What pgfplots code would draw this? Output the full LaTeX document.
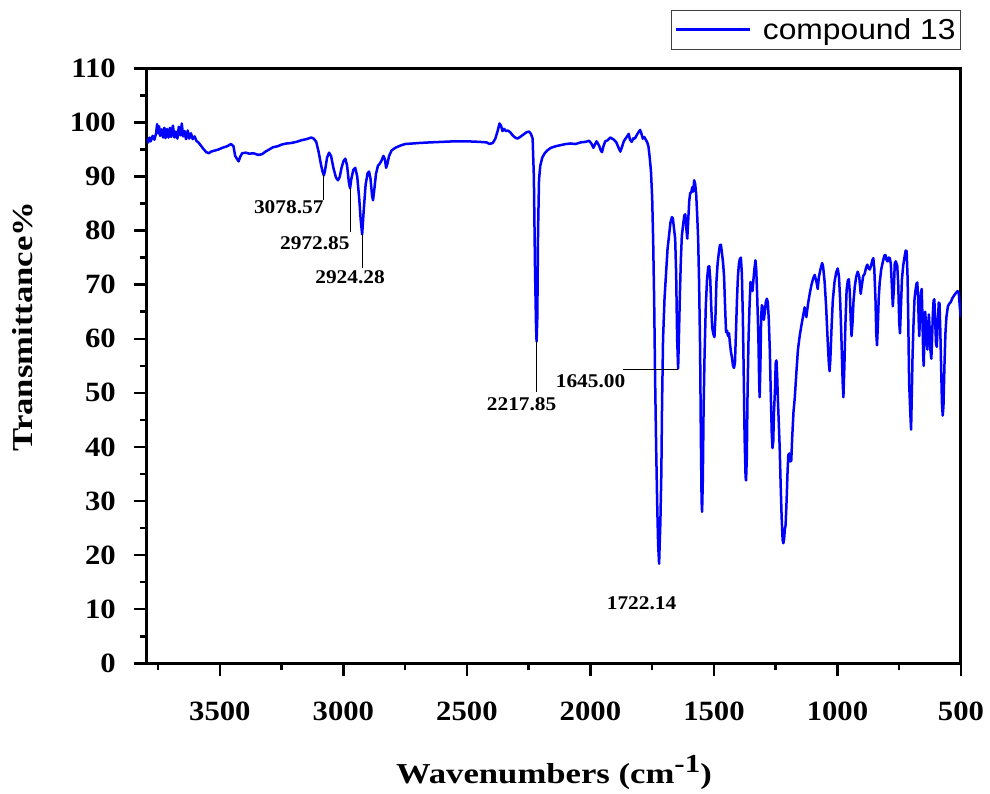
\documentclass[border=0pt]{standalone}
\usepackage{pgfplots}
\pgfplotsset{compat=1.18}
\usepackage{fontspec}
\setmainfont{Liberation Serif}
\newfontfamily\tickfont{Liberation Serif}[FakeStretch=1.1]
\newfontfamily\labfont{Liberation Serif}[FakeStretch=1.2]
\newfontfamily\legfont{Liberation Sans}[FakeStretch=1.1]
\newcommand{\annfont}{\tickfont\bfseries\fontsize{19.5}{20}\selectfont}
\definecolor{specblue}{RGB}{0,0,255}
\begin{document}
\begin{tikzpicture}
\useasboundingbox (-147bp,-130.7bp) rectangle (843bp,663.3bp);
\begin{axis}[
  at={(0bp,0bp)}, anchor=south west,
  scale only axis, width=814bp, height=595bp,
  xmin=500, xmax=3795, x dir=reverse,
  ymin=0, ymax=110,
  xtick={500,1000,...,3500},
  minor xtick={750,1250,...,3750},
  ytick={0,10,...,110},
  minor ytick={5,15,...,105},
  xtick pos=bottom, ytick pos=left,
  tick align=outside,
  major tick length=13bp, minor tick length=7bp,
  every tick/.style={black, line width=2.5bp},
  axis line style={line width=3bp},
  /pgf/number format/assume math mode=true,
  /pgf/number format/set thousands separator={},
  ticklabel style={font=\tickfont\bfseries\fontsize{28}{28}\selectfont},
  xticklabel style={anchor=north, inner sep=0pt, yshift=-25bp},
  yticklabel style={anchor=east, inner sep=0pt, xshift=-18bp},
  xlabel={Wavenumbers (cm\raisebox{11bp}{\fontsize{26}{26}\selectfont -1})},
  ylabel={Transmittance\%},
  xlabel style={font=\labfont\bfseries\fontsize{29}{29}\selectfont, at={(rel axis cs:0.5,-0.2017)}, anchor=base, inner sep=0pt},
  ylabel style={font=\labfont\bfseries\fontsize{29}{29}\selectfont, at={(rel axis cs:-0.1395,0.566)}, anchor=south, inner sep=0pt},
  legend style={at={(rel axis cs:1,1.0308)}, anchor=south east, draw=black!75, line width=1bp, fill=white,
    inner xsep=3bp, inner ysep=6.5bp, nodes={inner sep=2bp}, font=\legfont\fontsize{29}{29}\selectfont},
  legend image code/.code={\draw[#1, line width=2.5bp] (0bp,0bp) -- (74bp,0bp); \path (84bp,0bp);},
]
\addplot[specblue, line width=2.5bp, line join=round] coordinates {
(3795,97.0) (3790,96.3) (3785,97.2) (3780,96.5) (3772,97.5) (3765,96.8) (3758,98.0) (3754,99.7) (3750,98.0) (3746,99.3)
(3742,97.5) (3736,98.7) (3730,97.2) (3725,99.0) (3720,97.1) (3714,98.8) (3708,97.2) (3702,99.0) (3697,97.3) (3690,99.4)
(3684,97.2) (3678,98.3) (3672,97.0) (3666,99.2) (3660,97.6) (3654,99.8) (3649,97.4) (3643,98.4) (3637,96.9) (3630,98.5)
(3624,97.0) (3617,98.0) (3610,96.9) (3602,97.4) (3595,96.6) (3585,96.2) (3575,95.6) (3565,95.0) (3555,94.5) (3545,94.3)
(3535,94.6) (3520,94.8) (3505,95.0) (3490,95.3) (3470,95.6) (3455,96.0) (3445,95.6) (3438,93.8) (3430,93.2) (3424,92.8)
(3418,93.6) (3410,94.3) (3395,94.4) (3380,94.2) (3365,94.3) (3345,94.0) (3330,94.1) (3315,94.6) (3300,95.0) (3285,95.4)
(3265,95.6) (3250,95.9) (3230,96.1) (3210,96.2) (3190,96.4) (3170,96.7) (3150,96.9) (3130,97.2) (3120,97.0) (3110,96.4)
(3100,94.5) (3092,92.5) (3085,91.0) (3079,90.2) (3074,91.2) (3066,93.5) (3058,94.4) (3050,93.8) (3040,91.5) (3030,89.8)
(3022,89.3) (3015,89.9) (3008,91.5) (3000,92.8) (2992,93.3) (2985,92.0) (2978,89.0) (2973,87.8) (2968,89.5) (2960,91.2)
(2952,91.6) (2944,90.0) (2936,86.0) (2930,82.0) (2924,79.3) (2918,83.5) (2910,88.5) (2902,90.6) (2896,90.9) (2890,89.5)
(2884,86.5) (2880,85.6) (2875,87.5) (2868,90.5) (2860,92.0) (2852,92.4) (2845,93.0) (2838,93.8) (2832,93.2) (2827,91.6)
(2822,92.3) (2815,93.8) (2805,94.8) (2790,95.3) (2770,95.7) (2750,96.0) (2720,96.1) (2690,96.2) (2650,96.3) (2600,96.4)
(2550,96.5) (2500,96.5) (2450,96.4) (2420,96.3) (2408,96.0) (2395,96.2) (2385,97.0) (2375,98.5) (2368,99.8) (2362,99.4)
(2356,98.4) (2350,98.8) (2342,98.4) (2335,98.5) (2325,98.2) (2315,97.6) (2305,97.2) (2295,97.0) (2285,97.3) (2270,97.8)
(2258,98.2) (2248,98.3) (2240,97.8) (2234,97.0) (2229,90.0) (2224,72.0) (2220,62.0) (2218,59.5) (2215,64.0) (2212,80.0)
(2208,89.5) (2203,92.0) (2195,93.5) (2185,94.3) (2175,94.8) (2160,95.3) (2140,95.6) (2120,95.8) (2100,96.0) (2080,96.1)
(2060,96.0) (2040,96.3) (2020,96.4) (2005,96.6) (1995,96.0) (1988,95.3) (1983,95.8) (1975,96.5) (1965,95.7) (1958,94.8)
(1953,94.5) (1948,95.5) (1940,96.5) (1930,96.7) (1920,97.2) (1912,97.0) (1905,96.8) (1895,96.3) (1885,95.2) (1879,94.6)
(1872,95.5) (1865,96.5) (1858,97.0) (1850,97.5) (1845,97.9) (1840,96.8) (1833,96.4) (1826,97.1) (1820,97.0) (1812,97.7)
(1805,98.2) (1799,98.6) (1794,98.0) (1788,97.0) (1782,97.3) (1776,96.8) (1770,96.3) (1765,95.5) (1760,93.5) (1755,91.0)
(1750,86.0) (1746,78.0) (1742,67.0) (1738,52.0) (1734,40.0) (1730,30.0) (1726,22.0) (1722,18.4) (1719,23.0) (1717,25.8)
(1713,35.0) (1710,48.0) (1706,60.0) (1700,67.5) (1694,72.0) (1688,76.5) (1682,79.0) (1676,81.5) (1670,82.5) (1666,82.2)
(1662,80.5) (1657,78.5) (1653,72.0) (1649,60.0) (1645,54.5) (1642,60.0) (1638,68.0) (1634,74.5) (1630,79.0) (1625,81.0)
(1620,82.8) (1616,83.0) (1612,80.5) (1608,78.5) (1604,82.0) (1600,85.5) (1596,87.0) (1592,87.0) (1588,88.0) (1584,87.2)
(1580,89.3) (1576,88.6) (1572,86.8) (1568,83.0) (1564,78.5) (1560,70.0) (1556,58.0) (1553,42.0) (1550,30.0) (1548,28.0)
(1545,34.0) (1542,47.0) (1538,57.0) (1533,66.0) (1528,71.0) (1523,73.3) (1519,73.4) (1515,71.0) (1511,66.0) (1507,62.0)
(1502,60.8) (1498,60.3) (1494,64.0) (1490,70.5) (1485,74.0) (1480,76.0) (1476,77.3) (1472,77.4) (1468,76.0) (1463,74.0)
(1459,71.5) (1455,66.0) (1451,61.2) (1447,61.5) (1443,60.5) (1439,61.0) (1435,59.0) (1431,57.5) (1427,56.5) (1423,55.0)
(1419,54.6) (1415,55.5) (1411,61.0) (1407,67.0) (1403,71.5) (1399,73.8) (1395,74.8) (1391,75.0) (1387,72.0) (1383,64.0)
(1379,52.0) (1376,42.0) (1372,34.5) (1370,33.8) (1367,38.0) (1364,50.0) (1360,60.0) (1356,66.0) (1352,70.5) (1348,70.0)
(1344,68.8) (1340,71.0) (1336,73.0) (1332,74.5) (1329,73.0) (1325,68.0) (1320,60.0) (1317,52.0) (1315,49.2) (1312,55.0)
(1309,64.0) (1306,66.2) (1302,65.8) (1298,63.5) (1294,65.0) (1290,66.8) (1286,67.4) (1282,66.8) (1278,63.5) (1274,58.0)
(1270,50.0) (1266,42.5) (1263,39.8) (1260,41.0) (1257,46.5) (1253,50.5) (1250,55.5) (1247,56.0) (1244,53.0) (1241,48.5)
(1238,45.0) (1234,40.0) (1230,33.0) (1226,27.0) (1222,22.8) (1219,22.2) (1216,23.0) (1213,24.8) (1210,25.5) (1206,30.0)
(1202,35.5) (1199,38.5) (1195,38.8) (1191,37.3) (1187,37.5) (1183,42.0) (1178,46.5) (1173,49.0) (1166,54.0) (1160,58.0)
(1153,60.5) (1147,62.2) (1140,64.0) (1133,65.8) (1126,64.0) (1119,66.5) (1112,68.4) (1105,70.0) (1098,71.2) (1092,71.8)
(1085,70.5) (1080,69.2) (1075,71.5) (1068,73.0) (1062,74.0) (1058,73.3) (1052,70.5) (1046,66.0) (1040,60.0) (1035,55.5)
(1032,54.0) (1029,56.0) (1024,62.0) (1019,67.0) (1012,70.5) (1005,72.3) (999,73.0) (994,71.5) (989,67.0) (984,60.0)
(979,52.0) (976,49.2) (972,55.0) (968,62.5) (963,69.0) (958,70.8) (954,71.0) (950,68.5) (946,63.0) (943,60.5)
(939,63.0) (935,67.0) (930,69.6) (924,71.5) (918,72.4) (912,71.5) (906,68.3) (901,70.0) (896,71.6) (890,72.0)
(884,73.2) (879,73.7) (874,73.0) (869,72.8) (864,73.5) (859,74.5) (855,74.9) (851,73.0) (846,67.0) (843,61.0)
(840,58.8) (837,62.0) (833,67.5) (829,70.4) (823,72.8) (816,74.3) (810,75.4) (806,75.5) (801,74.5) (797,74.3)
(793,75.0) (788,74.9) (784,73.8) (780,70.0) (776,66.0) (772,69.0) (768,74.0) (764,74.3) (758,73.5) (754,70.0)
(750,63.0) (747,61.0) (743,66.0) (739,71.0) (734,73.5) (729,75.0) (724,76.3) (720,76.2) (716,71.0) (713,62.0)
(710,52.0) (707,48.5) (705,46.0) (702,43.2) (699,50.0) (696,57.0) (692,63.0) (688,67.5) (684,69.0) (680,70.2)
(677,70.4) (674,68.0) (671,63.0) (669,60.5) (666,64.0) (662,68.5) (659,69.2) (656,64.0) (653,57.0) (651,55.0)
(648,60.0) (645,65.0) (642,63.0) (639,60.0) (636,58.0) (633,62.0) (630,64.5) (627,62.0) (624,58.0) (620,56.3)
(617,60.0) (614,64.5) (611,67.0) (608,67.3) (605,64.0) (601,59.0) (598,58.5) (594,63.0) (590,66.7) (587,66.5)
(584,62.0) (580,54.0) (577,48.0) (574,45.8) (571,47.5) (567,55.0) (563,61.0) (559,64.0) (553,66.0) (547,66.5)
(541,66.8) (535,67.5) (528,68.0) (520,68.5) (514,68.8) (509,68.5) (505,66.0) (501,64.0)
};
\addlegendentry{compound 13}
\draw[line width=1bp] (axis cs:3078.57,90.2) -- (axis cs:3078.57,85.6) node[anchor=north east, inner sep=0pt, font=\annfont] {3078.57};
\draw[line width=1bp] (axis cs:2972.85,87.8) -- (axis cs:2972.85,79.7) node[anchor=north east, inner sep=0pt, yshift=-4bp, font=\annfont] {2972.85};
\draw[line width=1bp] (axis cs:2924.28,79.3) -- (axis cs:2924.28,73.1) node[anchor=north, inner sep=0pt, xshift=-12bp, yshift=-2bp, font=\annfont] {2924.28};
\draw[line width=1bp] (axis cs:2217.85,59.5) -- (axis cs:2217.85,50.2) node[anchor=north, inner sep=0pt, xshift=-15bp, yshift=-5bp, font=\annfont] {2217.85};
\draw[line width=1bp] (axis cs:1645,54.3) -- (axis cs:1869,54.3) node[anchor=north east, inner sep=0pt, xshift=3bp, yshift=-4bp, font=\annfont] {1645.00};
\node[anchor=north, inner sep=0pt, font=\annfont] at (axis cs:1793,12.3) {1722.14};
\end{axis}
\end{tikzpicture}
\end{document}
